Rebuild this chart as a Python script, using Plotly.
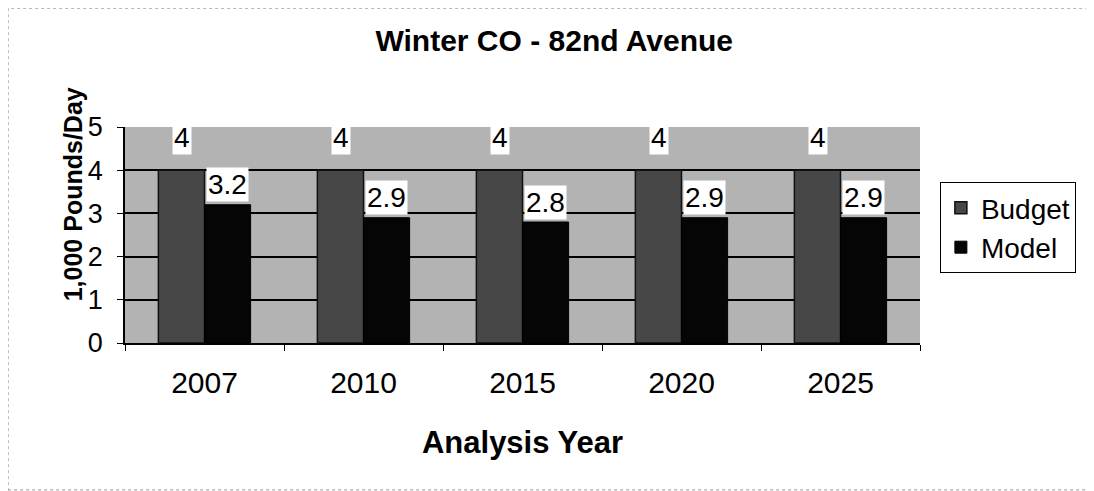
import plotly.graph_objects as go

years = ["2007", "2010", "2015", "2020", "2025"]
budget = [4, 4, 4, 4, 4]
model = [3.2, 2.9, 2.8, 2.9, 2.9]

FONT = "Liberation Sans, Arial, sans-serif"

fig = go.Figure()
fig.add_trace(go.Bar(name="Budget", x=years, y=budget,
                     marker=dict(color="#474747", line=dict(color="#111", width=1.5))))
fig.add_trace(go.Bar(name="Model", x=years, y=model,
                     marker=dict(color="#050505", line=dict(color="#000", width=1))))

# value labels with white boxes (category index positions)
for i, yr in enumerate(years):
    fig.add_annotation(x=i, y=budget[i], xshift=-23, yshift=33, text=str(budget[i]), showarrow=False,
                       bgcolor="white", borderpad=1, font=dict(size=28, color="black", family=FONT))
    fig.add_annotation(x=i, y=model[i], xshift=23, yshift=20, text=str(model[i]), showarrow=False,
                       bgcolor="white", borderpad=1, font=dict(size=28, color="black", family=FONT))

# y-axis title placed as an annotation (sits above the plot centre in the reference)
fig.add_annotation(xref="paper", yref="paper", x=-0.065, y=0.69, xanchor="center", yanchor="middle",
                   text="<b>1,000 Pounds/Day</b>", textangle=-90, showarrow=False,
                   font=dict(size=25, family=FONT, color="black"))

fig.update_layout(
    width=1086, height=483,
    paper_bgcolor="white", plot_bgcolor="#b3b3b3",
    font=dict(family=FONT, size=26, color="black"),
    barmode="group", bargap=0.42, bargroupgap=0,
    margin=dict(l=117, r=174, t=119, b=148),
    title=dict(text="<b>Winter CO - 82nd Avenue</b>", x=0.503, xanchor="center", y=1 - 32 / 483, yanchor="middle",
               font=dict(size=30, family=FONT)),
    legend=dict(x=1.025, y=0.745, xanchor="left", yanchor="top", bordercolor="black", borderwidth=1,
                bgcolor="white", font=dict(size=28), tracegroupgap=0, itemwidth=30),
    xaxis=dict(type="category", range=[-0.5, 4.5],
               title=dict(text="<b>Analysis Year</b>", font=dict(size=31), standoff=34),
               showline=True, linecolor="black", linewidth=1.5, ticks="outside", tickson="boundaries",
               ticklen=6, tickcolor="black", tickfont=dict(size=30), showgrid=False,
               ticklabelstandoff=12),
    yaxis=dict(range=[0, 5], dtick=1, showline=True, linecolor="black", linewidth=1.5,
               ticks="outside", ticklen=6, tickcolor="black", tickfont=dict(size=27),
               ticklabelstandoff=9,
               showgrid=True, gridcolor="black", gridwidth=1.5, zeroline=False),
    shapes=[dict(type="rect", xref="paper", yref="paper",
                 x0=-0.147, x1=1.218, y0=-0.68, y1=1.55,
                 line=dict(color="#999", width=1, dash="dot"))],
)

fig.write_html("out.html")
